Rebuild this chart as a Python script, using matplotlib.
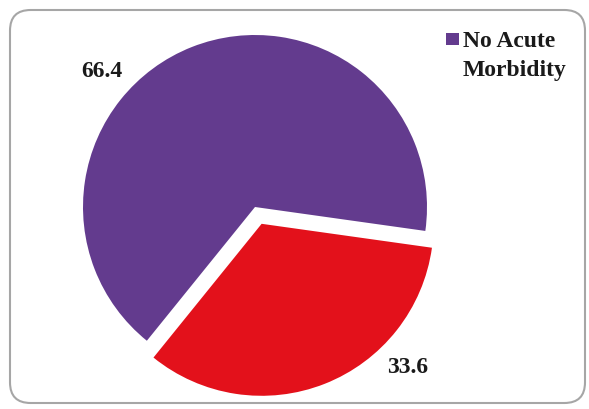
import matplotlib
matplotlib.use("Agg")
import matplotlib.pyplot as plt
from matplotlib.patches import FancyBboxPatch, Rectangle

categories = ["No Acute Morbidity", "Acute Morbidity"]
values = [66.4, 33.6]
colors = ["#633B8E", "#E3111B"]
legend_labels = ["No Acute", "Morbidity"]

W, H = 589, 409
fig = plt.figure(figsize=(W / 100, H / 100), dpi=100)
fig.patch.set_facecolor("white")

def fx(px):
    return px / W

def fy(py):
    return 1 - py / H

# rounded border
border = FancyBboxPatch((fx(10), fy(403)), fx(575), (393) / H,
                        boxstyle="round,pad=0,rounding_size=0.035",
                        transform=fig.transFigure, facecolor="none",
                        edgecolor="#a6a6a6", linewidth=1.5,
                        mutation_aspect=W / H, zorder=-1)
fig.patches.append(border)

# pie axes: center (255, 207) px, radius 172 px
cx, cy, r = 255, 207, 172
half = 1.2 * r
ax = fig.add_axes([fx(cx - half), fy(cy + half), 2 * half / W, 2 * half / H])
ax.set_zorder(2)
wedges, _ = ax.pie(values, colors=colors, startangle=-8, counterclock=True,
                   explode=[0, 0.105], radius=1.0,
                   wedgeprops=dict(linewidth=0))
ax.set_xlim(-1.2, 1.2)
ax.set_ylim(-1.2, 1.2)
ax.set_aspect("equal")
ax.axis("off")

font = dict(family="Liberation Serif", weight="bold", size=17, color="#1a1a1a", zorder=3)
fig.text(fx(102), fy(77), f"{values[0]:.1f}", ha="center", va="baseline", **font)
fig.text(fx(408), fy(373), f"{values[1]:.1f}", ha="center", va="baseline", **font)

# legend
fig.patches.append(Rectangle((fx(446), fy(45)), 13 / W, 12 / H,
                             transform=fig.transFigure, facecolor=colors[0],
                             edgecolor="none", zorder=3))
fig.text(fx(463), fy(47), legend_labels[0], ha="left", va="baseline", **font)
fig.text(fx(463), fy(76), legend_labels[1], ha="left", va="baseline", **font)

fig.savefig("out.png", dpi=100, facecolor="white")
